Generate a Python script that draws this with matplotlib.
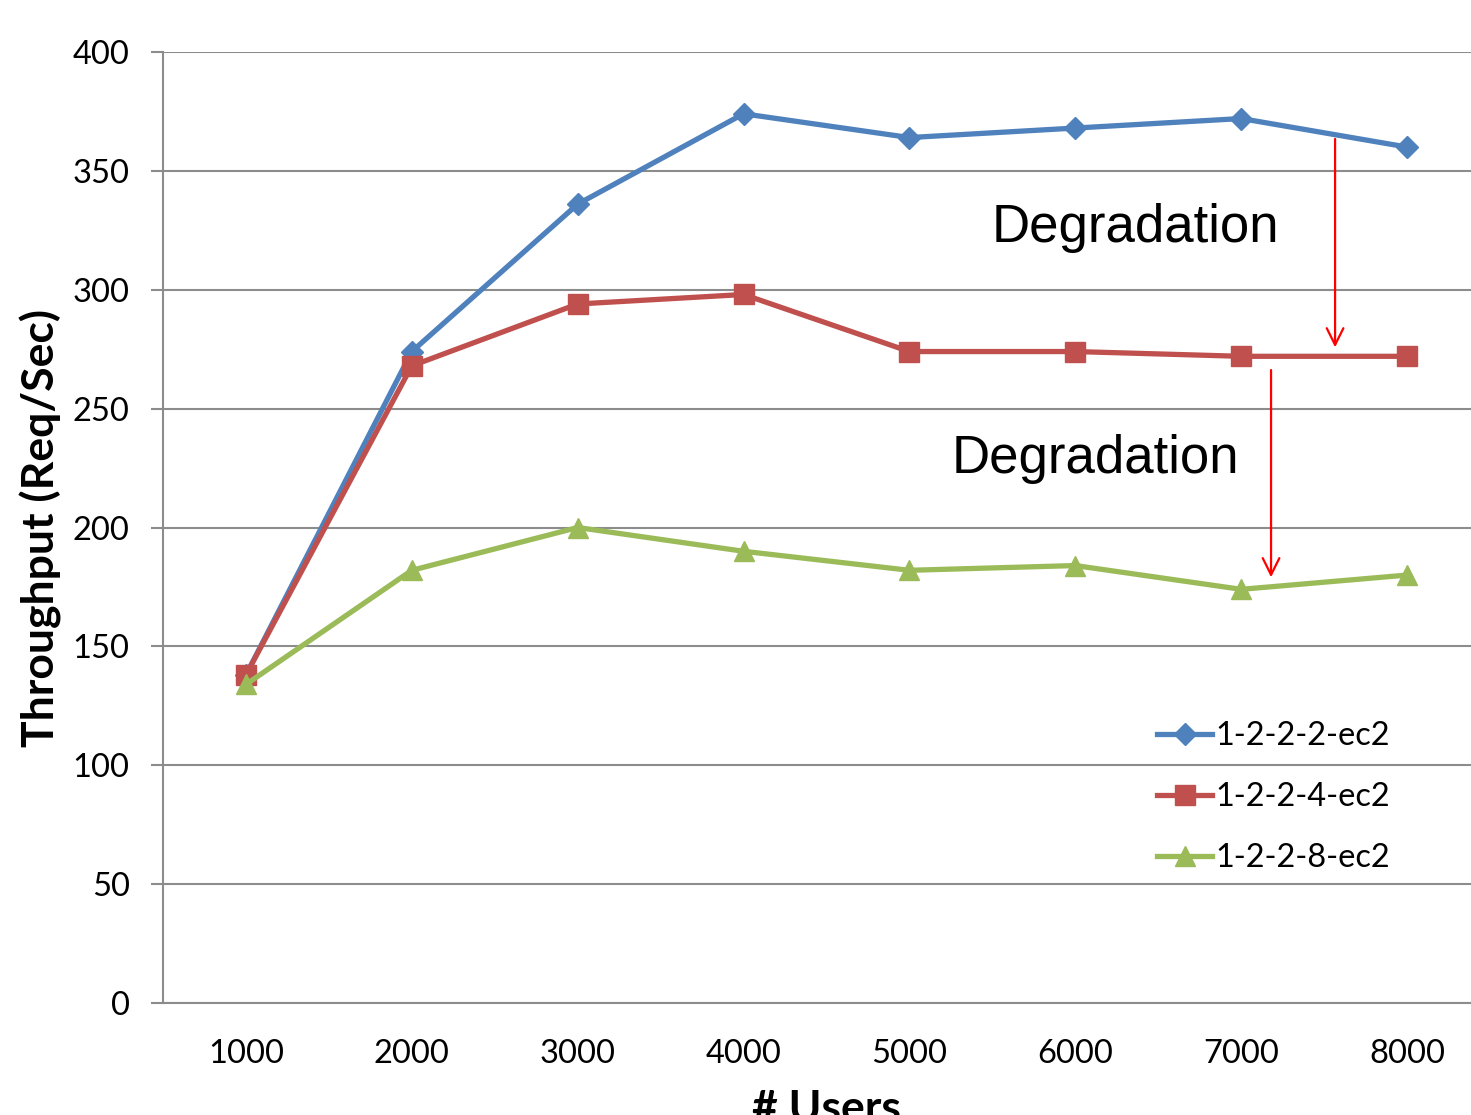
import matplotlib
matplotlib.use("Agg")
import matplotlib.pyplot as plt

# Data
users = ["1000", "2000", "3000", "4000", "5000", "6000", "7000", "8000"]
tp_1222 = [138, 274, 336, 374, 364, 368, 372, 360]
tp_1224 = [138, 268, 294, 298, 274, 274, 272, 272]
tp_1228 = [134, 182, 200, 190, 182, 184, 174, 180]
y_ticks = [0, 50, 100, 150, 200, 250, 300, 350, 400]

blue = "#4F81BD"
red = "#C0504D"
green = "#9BBB59"
grid_gray = "#8C8C8C"

plt.rcParams["font.family"] = ["Lato", "DejaVu Sans"]

fig = plt.figure(figsize=(14.71, 11.15), dpi=100)
ax = fig.add_axes([163 / 1471, 0.1004, 1327 / 1471, 0.8530])

x = list(range(1, len(users) + 1))
ax.plot(x, tp_1222, color=blue, lw=3.8, marker="D", ms=11.5, label="1-2-2-2-ec2", zorder=3)
ax.plot(x, tp_1224, color=red, lw=3.8, marker="s", ms=14, label="1-2-2-4-ec2", zorder=3)
ax.plot(x, tp_1228, color=green, lw=3.8, marker="^", ms=14, label="1-2-2-8-ec2", zorder=3)

ax.set_xlim(0.5, len(users) + 0.5)
ax.set_ylim(0, 400)
ax.set_xticks(x)
ax.set_xticklabels(users)
ax.set_yticks(y_ticks)
ax.yaxis.grid(True, color=grid_gray, lw=1.5)
ax.set_axisbelow(True)

for s in ["top", "right"]:
    ax.spines[s].set_visible(False)
ax.spines["left"].set_color(grid_gray)
ax.spines["left"].set_linewidth(1.5)
ax.spines["bottom"].set_color(grid_gray)
ax.spines["bottom"].set_linewidth(1.5)

ax.tick_params(axis="y", length=9, width=1.5, color=grid_gray, labelsize=23.5, pad=15)
ax.tick_params(axis="x", length=0, labelsize=23.5, pad=26)

ax.set_ylabel("Throughput (Req/Sec)", fontsize=32, fontweight="bold", labelpad=8)
ax.set_xlabel("# Users", fontsize=32, fontweight="bold", labelpad=14)

# degradation annotations
ax.annotate("", xy=(7.566, 274.6), xytext=(7.566, 364.6),
            arrowprops=dict(arrowstyle="->", color="red", lw=1.6, mutation_scale=30))
ax.annotate("", xy=(7.18, 177.9), xytext=(7.18, 267.4),
            arrowprops=dict(arrowstyle="->", color="red", lw=1.6, mutation_scale=30))
ax.text(6.36, 326, "Degradation", fontsize=38, ha="center", va="center",
        family=["Liberation Sans", "DejaVu Sans"])
ax.text(6.12, 229, "Degradation", fontsize=38, ha="center", va="center",
        family=["Liberation Sans", "DejaVu Sans"])

leg = ax.legend(loc="upper left", bbox_to_anchor=(0.727, 0.327), frameon=False,
                fontsize=23.4, handlelength=1.7, handletextpad=0.1, labelspacing=0.95)

fig.savefig("out.png", dpi=100)
